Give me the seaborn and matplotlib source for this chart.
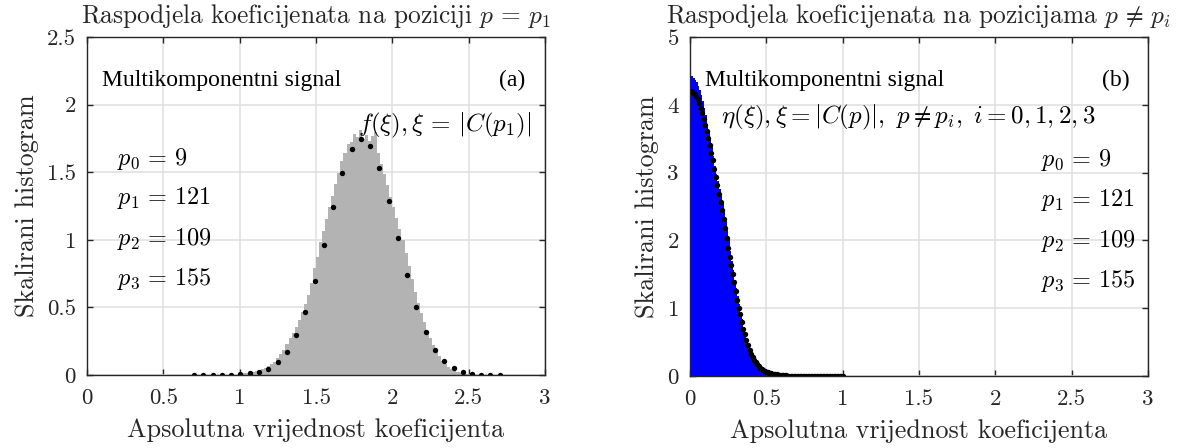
import numpy as np
import pandas as pd
import matplotlib
matplotlib.use("Agg")
import matplotlib.pyplot as plt
import seaborn as sns

# ---------------- data ----------------
# Panel (a): histogram of |C(p1)| (bin centers, heights), bin width 0.02
hist_a_x = [1.01, 1.03, 1.05, 1.07, 1.09, 1.11, 1.13, 1.15, 1.17, 1.19,
            1.21, 1.23, 1.25, 1.27, 1.29, 1.31, 1.33, 1.35, 1.37, 1.39,
            1.41, 1.43, 1.45, 1.47, 1.49, 1.51, 1.53, 1.55, 1.57, 1.59,
            1.61, 1.63, 1.65, 1.67, 1.69, 1.71, 1.73, 1.75, 1.77, 1.79,
            1.81, 1.83, 1.85, 1.87, 1.89, 1.91, 1.93, 1.95, 1.97, 1.99,
            2.01, 2.03, 2.05, 2.07, 2.09, 2.11, 2.13, 2.15, 2.17, 2.19,
            2.21, 2.23, 2.25, 2.27, 2.29, 2.31, 2.33, 2.35, 2.37, 2.39,
            2.41, 2.43, 2.45, 2.47, 2.49, 2.51, 2.53, 2.55, 2.57, 2.59]
hist_a_y = [0.010, 0.012, 0.015, 0.018, 0.021, 0.027, 0.036, 0.045, 0.055, 0.068,
            0.082, 0.098, 0.125, 0.152, 0.185, 0.232, 0.270, 0.312, 0.352, 0.405,
            0.468, 0.522, 0.592, 0.682, 0.790, 0.872, 0.985, 1.065, 1.155, 1.245,
            1.325, 1.415, 1.495, 1.585, 1.640, 1.705, 1.722, 1.782, 1.760, 1.810,
            1.742, 1.775, 1.728, 1.765, 1.795, 1.642, 1.562, 1.488, 1.402, 1.318,
            1.242, 1.158, 1.082, 0.998, 0.902, 0.808, 0.712, 0.612, 0.532, 0.458,
            0.392, 0.328, 0.272, 0.222, 0.180, 0.140, 0.106, 0.080, 0.060, 0.042,
            0.030, 0.022, 0.015, 0.010, 0.007, 0.005, 0.004, 0.003, 0.002, 0.001]
hist_a_binw = 0.02

# Panel (a): theoretical f(xi) points
fit_a_x = [0.702, 0.763, 0.823, 0.884, 0.945, 1.005, 1.066, 1.127, 1.187, 1.248,
           1.309, 1.369, 1.430, 1.491, 1.551, 1.612, 1.673, 1.733, 1.794, 1.855,
           1.915, 1.976, 2.037, 2.097, 2.158, 2.219, 2.279, 2.340, 2.401, 2.461,
           2.522, 2.583, 2.643, 2.704]
fit_a_y = [0.000, 0.000, 0.000, 0.000, 0.000, 0.007, 0.012, 0.025, 0.047, 0.093,
           0.172, 0.295, 0.467, 0.696, 0.964, 1.244, 1.495, 1.674, 1.743, 1.694,
           1.531, 1.288, 1.010, 0.737, 0.501, 0.315, 0.187, 0.103, 0.052, 0.025,
           0.010, 0.002, 0.000, 0.000]

# Panel (b): histogram of |C(p)|, p != p_i (bin centers, heights), bin width 0.01
hist_b_x = [0.005, 0.015, 0.025, 0.035, 0.045, 0.055, 0.065, 0.075, 0.085, 0.095,
            0.105, 0.115, 0.125, 0.135, 0.145, 0.155, 0.165, 0.175, 0.185, 0.195,
            0.205, 0.215, 0.225, 0.235, 0.245, 0.255, 0.265, 0.275, 0.285, 0.295,
            0.305, 0.315, 0.325, 0.335, 0.345, 0.355, 0.365, 0.375, 0.385, 0.395,
            0.405, 0.415, 0.425, 0.435, 0.445, 0.455, 0.465, 0.475, 0.485, 0.495,
            0.505, 0.515, 0.525, 0.535, 0.545, 0.555, 0.565, 0.575, 0.585, 0.595,
            0.605, 0.615, 0.625, 0.635, 0.645, 0.655]
hist_b_y = [4.43, 4.42, 4.40, 4.37, 4.33, 4.28, 4.22, 4.15, 4.05, 3.96,
            3.85, 3.72, 3.60, 3.49, 3.38, 3.24, 3.10, 2.98, 2.87, 2.76,
            2.65, 2.55, 2.44, 2.30, 2.15, 2.00, 1.85, 1.70, 1.56, 1.42,
            1.30, 1.18, 1.06, 0.95, 0.84, 0.73, 0.63, 0.54, 0.46, 0.39,
            0.33, 0.28, 0.24, 0.20, 0.17, 0.14, 0.12, 0.10, 0.085, 0.072,
            0.062, 0.053, 0.045, 0.038, 0.032, 0.027, 0.023, 0.019, 0.016, 0.013,
            0.010, 0.008, 0.006, 0.004, 0.003, 0.002]
hist_b_binw = 0.01

# Panel (b): theoretical eta(xi) points
fit_b_x = [0.00, 0.01, 0.02, 0.03, 0.04, 0.05, 0.06, 0.07, 0.08, 0.09,
           0.10, 0.11, 0.12, 0.13, 0.14, 0.15, 0.16, 0.17, 0.18, 0.19,
           0.20, 0.21, 0.22, 0.23, 0.24, 0.25, 0.26, 0.27, 0.28, 0.29,
           0.30, 0.31, 0.32, 0.33, 0.34, 0.35, 0.36, 0.37, 0.38, 0.39,
           0.40, 0.41, 0.42, 0.43, 0.44, 0.45, 0.46, 0.47, 0.48, 0.49,
           0.50, 0.51, 0.52, 0.53, 0.54, 0.55, 0.56, 0.57, 0.58, 0.59,
           0.60, 0.61, 0.62, 0.63, 0.64, 0.65, 0.66, 0.67, 0.68, 0.69,
           0.70, 0.71, 0.72, 0.73, 0.74, 0.75, 0.76, 0.77, 0.78, 0.79,
           0.80, 0.81, 0.82, 0.83, 0.84, 0.85, 0.86, 0.87, 0.88, 0.89,
           0.90, 0.91, 0.92, 0.93, 0.94, 0.95, 0.96, 0.97, 0.98, 0.99, 1.00]
fit_b_y = [4.21, 4.20, 4.18, 4.16, 4.13, 4.08, 4.02, 3.96, 3.88, 3.79,
           3.70, 3.61, 3.51, 3.40, 3.29, 3.18, 3.06, 2.94, 2.82, 2.69,
           2.57, 2.45, 2.32, 2.18, 2.03, 1.89, 1.76, 1.64, 1.51, 1.38,
           1.26, 1.12, 1.01, 0.91, 0.80, 0.70, 0.62, 0.53, 0.45, 0.39,
           0.33, 0.28, 0.24, 0.20, 0.17, 0.145, 0.125, 0.105, 0.088, 0.074,
           0.064, 0.055, 0.047, 0.040, 0.034, 0.030, 0.027, 0.024, 0.020, 0.017,
           0.014, 0.012, 0.010, 0.008, 0.006, 0.005, 0.004, 0.003, 0.003, 0.002,
           0.002, 0.001, 0.001, 0.001, 0.001, 0.001, 0.001, 0.000, 0.000, 0.000,
           0.000, 0.000, 0.000, 0.000, 0.000, 0.000, 0.000, 0.000, 0.000, 0.000,
           0.000, 0.000, 0.000, 0.000, 0.000, 0.000, 0.000, 0.000, 0.000, 0.000, 0.000]

positions_labels = [r"$p_0 \,=\, 9$", r"$p_1 \,=\, 121$", r"$p_2 \,=\, 109$", r"$p_3 \,=\, 155$"]
x_ticks = [0, 0.5, 1, 1.5, 2, 2.5, 3]
x_tick_labels = ["0", "0.5", "1", "1.5", "2", "2.5", "3"]
y_ticks_a = [0, 0.5, 1, 1.5, 2, 2.5]
y_tick_labels_a = ["0", "0.5", "1", "1.5", "2", "2.5"]
y_ticks_b = [0, 1, 2, 3, 4, 5]
y_tick_labels_b = ["0", "1", "2", "3", "4", "5"]

title_a = r"Raspodjela koeficijenata na poziciji $p \,=\, p_1$"
title_b = r"Raspodjela koeficijenata na pozicijama $p \,\neq\, p_i$"
xlabel = "Apsolutna vrijednost koeficijenta"
ylabel = "Skalirani histogram"
signal_label = "Multikomponentni signal"
formula_a = r"$f(\xi), \xi \,=\, |C(p_1)|$"
formula_b = r"$\eta(\xi), \xi = |C(p)|,\ p \neq p_i,\ i = 0, 1, 2, 3$"

# ---------------- style ----------------
sns.set_theme(style="ticks")
plt.rcParams.update({
    "font.family": ["cmr10", "DejaVu Serif"],
    "mathtext.fontset": "cm",
    "axes.formatter.use_mathtext": True,
    "axes.unicode_minus": False,
    "axes.edgecolor": "#262626",
    "axes.linewidth": 1.0,
    "text.color": "#262626",
    "axes.labelcolor": "#262626",
})

AX_COLOR = "#262626"
TICK_FS = 16.5
LABEL_FS = 18.8
TITLE_FS = 18.3
TEXT_FS = 17
MATH_FS = 18
PLAB_FS = 17.5

fig = plt.figure(figsize=(11.94, 4.48), dpi=100)
ax_a = fig.add_axes([87 / 1194, 1 - 375 / 448, 458 / 1194, 338 / 448])
ax_b = fig.add_axes([690 / 1194, 1 - 376 / 448, 458 / 1194, 339 / 448])


def style_axes(ax, yticks, ylabels, ylim):
    ax.set_xlim(0, 3)
    ax.set_ylim(*ylim)
    ax.set_xticks(x_ticks)
    ax.set_xticklabels(x_tick_labels)
    ax.set_yticks(yticks)
    ax.set_yticklabels(ylabels)
    ax.grid(True, color="#dfdfdf", linewidth=1.1)
    ax.set_axisbelow(True)
    for s in ax.spines.values():
        s.set_visible(True)
        s.set_color(AX_COLOR)
        s.set_linewidth(1.0)
        s.set_zorder(5)
    ax.tick_params(direction="in", length=4.5, width=1.0, top=True, right=True,
                   labelsize=TICK_FS, colors=AX_COLOR)
    ax.tick_params(axis="x", pad=10)
    ax.tick_params(axis="y", pad=8)
    ax.set_xlabel(xlabel, fontsize=LABEL_FS, labelpad=7)
    ax.set_ylabel(ylabel, fontsize=LABEL_FS, labelpad=6)


# ---- panel (a) ----
edges_a = [c - hist_a_binw / 2 for c in hist_a_x] + [hist_a_x[-1] + hist_a_binw / 2]
sns.histplot(x=hist_a_x, weights=hist_a_y, bins=edges_a, ax=ax_a,
             element="step", fill=True, color="#b3b3b3", alpha=1.0,
             linewidth=0, stat="count")
sns.scatterplot(x=fit_a_x, y=fit_a_y, ax=ax_a, color="black", s=15,
                linewidth=0, zorder=4)
style_axes(ax_a, y_ticks_a, y_tick_labels_a, (0, 2.5))
ax_a.set_title(title_a, fontsize=TITLE_FS, pad=10)
ax_a.text(0.10, 2.14, signal_label, fontsize=TEXT_FS,
          family=["Liberation Serif"], color="black")
ax_a.text(2.87, 2.14, "(a)", fontsize=TEXT_FS, ha="right",
          family=["Liberation Serif"], color="black")
ax_a.text(2.91, 1.80, formula_a, fontsize=MATH_FS, ha="right", color="black")
for lab, yy in zip(positions_labels, [1.55, 1.265, 0.965, 0.665]):
    ax_a.text(0.195, yy, lab, fontsize=PLAB_FS, ha="left", color="black")

# ---- panel (b) ----
edges_b = [c - hist_b_binw / 2 for c in hist_b_x] + [hist_b_x[-1] + hist_b_binw / 2]
sns.histplot(x=hist_b_x, weights=hist_b_y, bins=edges_b, ax=ax_b,
             element="step", fill=True, color="#0000ff", alpha=1.0,
             linewidth=0, stat="count")
sns.scatterplot(x=fit_b_x, y=fit_b_y, ax=ax_b, color="black", s=15,
                linewidth=0, zorder=4)
style_axes(ax_b, y_ticks_b, y_tick_labels_b, (0, 5))
ax_b.set_title(title_b, fontsize=TITLE_FS, pad=10)
ax_b.text(0.10, 4.28, signal_label, fontsize=TEXT_FS,
          family=["Liberation Serif"], color="black")
ax_b.text(2.88, 4.28, "(b)", fontsize=TEXT_FS, ha="right",
          family=["Liberation Serif"], color="black")
ax_b.text(0.203, 3.73, formula_b, fontsize=MATH_FS, ha="left", color="black")
for lab, yy in zip(positions_labels, [3.09, 2.51, 1.91, 1.32]):
    ax_b.text(2.30, yy, lab, fontsize=PLAB_FS, ha="left", color="black")

fig.savefig("out.png", dpi=100)
